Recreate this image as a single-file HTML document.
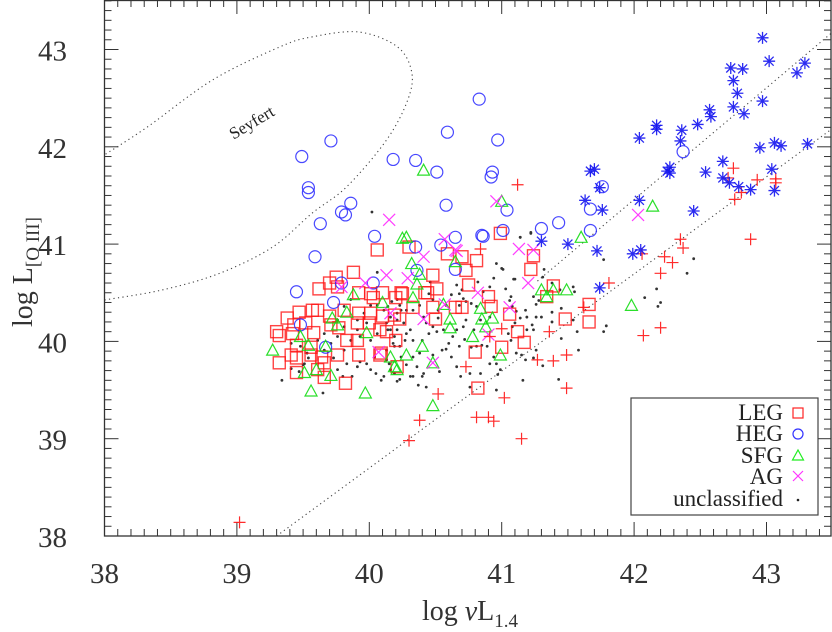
<!DOCTYPE html>
<html><head><meta charset="utf-8"><style>
html,body{margin:0;padding:0;background:#fff;}
svg{display:block;font-family:"Liberation Serif","DejaVu Serif",serif;}
</style></head><body>
<svg id="chart" width="832" height="632" viewBox="0 0 832 632" xmlns="http://www.w3.org/2000/svg">
<defs><clipPath id="pc"><rect x="104.5" y="0" width="726.5" height="536"/></clipPath></defs>
<g id="grid"></g>
<g id="plot" clip-path="url(#pc)"></g>
<rect x="104.5" y="0.5" width="726.5" height="535.5" fill="none" stroke="#333" stroke-width="1.3"/>
<text x="252" y="128" font-size="17" text-anchor="middle" transform="rotate(-31 252 123)" fill="#222">Seyfert</text>
<text x="470" y="620" font-size="28" text-anchor="middle" fill="#333">log <tspan font-style="italic">ν</tspan>L<tspan font-size="19" dy="7">1.4</tspan></text>
<text transform="translate(32 272) rotate(-90)" font-size="28" text-anchor="middle" fill="#333">log L<tspan font-size="19" dy="7">[O III]</tspan></text>
<g>
<rect x="631" y="398" width="187" height="117" fill="#fff" stroke="#444" stroke-width="1.2"/>
<g font-size="23" text-anchor="end" fill="#222">
<text x="783" y="420">LEG</text>
<text x="783" y="441">HEG</text>
<text x="783" y="463">SFG</text>
<text x="783" y="484">AG</text>
<text x="783" y="506">unclassified</text>
</g>
<rect x="793" y="408" width="10" height="10" fill="none" stroke="#f22" stroke-width="1.2"/>
<circle cx="798" cy="434" r="5" fill="none" stroke="#33f" stroke-width="1.2"/>
<path d="M792.5 460 L803.5 460 L798 450 Z" fill="none" stroke="#2e2" stroke-width="1.2"/>
<path d="M793 471 L803 481 M803 471 L793 481" stroke="#f3f" stroke-width="1.2"/>
<circle cx="798" cy="500" r="1.3" fill="#222"/>
</g>
</svg>
<script>
const xTicks=[38,39,40,41,42,43];
const yTicks=[38,39,40,41,42,43];
const legX=[40.06,39.88,39.75,39.70,39.62,39.76,39.92,40.03,40.10,40.24,40.20,39.47,39.57,39.61,39.38,39.52,39.43,39.30,39.32,39.42,39.58,39.70,39.81,39.92,40.01,40.10,40.19,39.71,39.77,39.91,40.00,39.83,39.91,40.20,40.13,39.45,39.56,39.41,39.45,39.32,39.56,39.64,39.66,39.76,39.92,40.09,39.61,39.66,39.82,39.45,40.30,40.59,40.70,40.81,40.73,40.48,40.75,40.51,40.44,40.25,40.99,41.24,41.22,41.39,41.34,40.90,40.92,40.65,40.70,40.48,40.33,40.50,41.06,41.48,41.66,41.66,41.12,41.17,41.00,40.80,40.82,40.23,40.08,40.08,40.21,40.01,40.42];
const legY=[40.94,40.71,40.66,40.60,40.54,40.56,40.50,40.45,40.50,40.50,40.45,40.30,40.32,40.32,40.24,40.19,40.17,40.10,40.06,40.08,40.09,40.26,40.32,40.29,40.29,40.26,40.27,40.17,40.14,40.19,40.19,40.01,40.01,40.01,40.10,39.96,39.94,39.86,39.83,39.78,39.86,39.84,39.78,39.86,39.86,39.88,39.71,39.63,39.57,39.68,40.97,40.90,40.87,40.83,40.73,40.68,40.58,40.54,40.50,40.49,41.11,40.88,40.74,40.57,40.46,40.46,40.36,40.35,40.35,40.35,40.35,40.23,40.28,40.23,40.38,40.20,40.10,39.99,39.94,39.89,39.52,40.23,40.12,39.86,39.74,40.49,40.50];
const hegX=[39.49,39.71,39.54,39.54,39.63,39.79,39.82,39.86,39.59,40.04,40.18,40.35,40.51,40.59,40.58,40.65,40.35,40.54,40.36,40.65,39.45,39.73,39.79,40.03,40.83,40.97,40.93,40.92,41.04,41.01,40.85,41.30,41.43,41.67,41.67,41.76,42.37,39.48,39.67,40.86];
const hegY=[41.90,42.06,41.58,41.53,41.21,41.33,41.30,41.42,40.87,41.08,41.87,41.86,41.74,42.15,41.40,41.07,40.97,40.99,40.73,40.74,40.51,40.40,40.60,40.60,42.49,42.07,41.74,41.69,41.35,41.14,41.09,41.16,41.22,41.36,41.14,41.59,41.95,40.17,39.94,41.08];
const qsoX=[42.97,43.02,42.73,42.82,42.75,42.78,42.75,42.97,42.83,42.57,42.58,42.48,42.36,42.35,42.17,42.17,42.04,43.23,43.29,43.31,43.06,43.11,42.95,42.67,42.54,42.27,42.25,42.27,42.67,42.72,42.79,42.88,43.04,43.06,42.45,42.04,41.76,41.74,41.63,41.67,41.70,41.30,41.50,41.72,41.99,42.05,41.74];
const qsoY=[43.12,42.88,42.81,42.80,42.68,42.55,42.41,42.47,42.34,42.38,42.31,42.23,42.17,42.06,42.22,42.18,42.09,42.76,42.86,42.03,42.04,42.01,41.99,41.85,41.74,41.79,41.75,41.73,41.68,41.63,41.59,41.56,41.77,41.55,41.34,41.45,41.35,41.58,41.45,41.75,41.77,41.03,41.00,40.93,40.90,40.94,40.55];
const sfgX=[40.41,40.28,40.32,40.38,40.36,40.33,39.88,40.10,40.56,40.65,41.00,42.14,41.60,41.30,41.34,41.39,41.49,40.84,41.98,40.61,40.61,40.85,40.88,40.93,40.78,40.40,40.99,40.28,40.16,40.48,40.19,40.21,40.48,40.25,39.83,39.72,39.76,39.98,39.48,39.27,39.54,39.67,39.51,39.60,39.71,39.56,39.97];
const sfgY=[41.76,41.07,40.80,40.69,40.59,40.45,40.48,40.40,40.38,40.82,41.44,41.39,41.07,40.53,40.46,40.53,40.53,40.34,40.37,40.23,40.14,40.23,40.15,40.24,40.05,39.95,39.86,39.86,39.84,39.78,39.74,39.71,39.34,41.06,40.30,40.24,40.17,40.09,40.05,39.91,39.96,39.95,39.68,39.71,39.65,39.49,39.47];
const agX=[40.15,40.57,40.41,40.29,40.13,40.65,40.96,42.03,40.66,41.13,41.24,41.20,40.82,41.06,40.41,40.57,40.90,40.48,39.79,39.97,40.07,40.16];
const agY=[41.25,41.05,40.87,40.65,40.68,40.94,41.44,41.30,40.93,40.95,40.94,40.60,40.50,40.35,40.23,40.38,40.07,39.78,40.56,40.60,39.89,40.29];
const plusX=[41.12,40.84,42.06,42.35,42.37,42.23,42.29,42.20,41.81,41.62,42.75,42.71,42.76,42.81,42.93,43.07,43.07,42.88,42.20,42.07,41.36,41.00,40.91,41.27,41.39,41.49,41.49,40.73,40.52,41.02,40.38,40.81,40.90,40.94,40.30,41.15,39.02];
const plusY=[41.61,40.95,40.90,41.05,40.96,40.87,40.81,40.70,40.60,40.35,41.78,41.68,41.46,41.53,41.66,41.67,41.63,41.05,40.14,40.06,40.10,40.13,40.05,39.81,39.80,39.86,39.52,39.74,39.46,39.42,39.19,39.22,39.22,39.18,38.98,39.00,38.14];
const dotX=[41.14,41.22,40.96,41.01,41.10,41.31,41.38,41.54,41.55,41.44,41.24,41.26,41.28,41.18,41.19,41.07,41.06,41.03,41.08,41.11,41.14,41.26,41.30,41.38,41.45,41.38,41.54,41.58,41.45,41.23,41.24,41.19,41.08,41.10,41.05,41.07,41.11,41.15,41.18,41.24,41.31,41.26,40.91,40.84,40.79,40.73,40.71,40.66,40.63,40.60,40.55,40.56,40.51,40.48,40.52,40.52,40.58,40.68,40.71,40.77,40.81,40.82,40.91,40.86,40.94,40.66,40.70,40.73,40.62,40.68,40.46,40.45,40.48,40.38,40.33,40.41,40.43,40.45,40.40,40.38,40.33,40.28,40.36,40.48,40.58,40.62,40.68,40.72,40.77,40.81,40.85,40.89,40.91,40.94,40.96,40.99,40.97,40.84,40.76,40.69,40.66,40.53,40.41,40.31,40.23,40.19,40.16,40.11,40.13,40.13,40.18,40.27,40.23,40.28,40.33,40.31,40.26,40.21,40.16,40.13,40.21,40.28,40.23,40.17,41.77,41.79,42.08,42.17,42.18,41.77,41.57,41.43,41.16,40.96,40.76,40.43,40.37,40.33,40.40,40.06,39.34,39.41,39.47,39.50,39.54,39.65,39.73,39.76,39.80,39.83,39.87,39.91,39.93,39.98,40.01,40.04,40.05,40.09,40.15,40.21,40.19,40.24,40.14,40.21,39.81,39.86,39.76,39.71,39.66,39.61,39.53,39.48,39.41,39.51,39.93,40.01,40.06,40.11,40.16,39.96,39.91,40.21,40.24,39.86,39.81,40.01,40.06,40.14,39.91,39.98,40.19,39.81,39.66,39.76,41.22,41.14,41.00,41.32,41.09,42.40,42.45,42.20,40.02];
const dotY=[41.07,41.11,40.80,40.74,40.64,40.66,40.60,40.56,40.51,40.53,40.46,40.38,40.42,40.32,40.25,40.46,40.42,40.54,40.36,40.31,40.24,40.25,40.25,40.20,40.34,40.30,40.22,39.91,40.03,40.17,40.12,40.12,40.15,40.19,40.08,40.01,39.88,39.86,39.81,39.83,39.75,39.91,40.25,40.22,40.12,40.22,40.15,40.12,40.05,39.98,39.91,40.12,40.10,40.15,40.24,40.32,40.37,40.37,40.44,40.39,40.36,40.61,40.56,40.51,40.65,40.58,40.53,40.41,40.48,40.49,40.61,40.49,40.43,40.37,40.32,40.25,40.19,40.08,40.01,39.88,39.84,39.76,39.74,39.86,39.92,39.84,39.95,40.02,39.94,39.95,39.96,39.95,39.77,39.84,39.77,39.71,39.66,39.67,39.67,39.64,39.74,39.69,39.67,39.64,39.61,39.67,39.71,39.64,39.81,39.91,39.98,40.01,39.95,40.08,40.01,40.12,40.19,40.12,40.12,40.19,40.29,40.32,40.37,40.41,40.84,40.16,40.45,40.54,40.36,40.10,40.10,39.61,39.60,39.50,39.53,39.53,39.55,39.64,39.64,40.71,39.60,39.72,39.69,39.76,39.83,39.47,39.83,39.71,39.64,39.77,39.64,39.74,39.79,39.77,39.71,39.84,39.67,39.60,39.77,39.59,39.95,39.84,40.12,40.22,40.15,40.01,40.05,39.98,40.08,40.01,39.88,39.95,39.98,39.77,40.05,40.01,40.08,40.32,40.25,40.29,40.22,40.43,40.32,40.43,40.36,40.37,40.37,40.36,40.12,40.19,40.05,39.91,39.91,40.22,41.12,41.07,40.75,40.74,40.64,40.70,40.85,40.40,41.33];
const lowerLine=[[39.30,38.0],[43.5,42.19]];
const upperLine=[[41.27,40.62],[43.5,43.18]];
const seyfertX=[37.98,38.32,38.82,39.33,39.57,39.92,40.21,40.32,40.29,40.13,39.83,39.57,39.27,38.87,38.44,38.02,37.98];
const seyfertY=[41.90,42.20,42.69,43.03,43.13,43.18,43.03,42.77,42.48,42.07,41.59,41.32,40.97,40.70,40.53,40.43,40.42];

const NS="http://www.w3.org/2000/svg";
const X0=104.5,PX=132.4,Y0=536,PY=97.3;
function sx(v){return X0+(v-38)*PX;}
function sy(v){return Y0-(v-38)*PY;}
function mk(tag,attrs,parent){const e=document.createElementNS(NS,tag);for(const k in attrs)e.setAttribute(k,attrs[k]);parent.appendChild(e);return e;}
const grid=document.getElementById('grid');
const plot=document.getElementById('plot');

for(let i=0;i<=55;i++){
  const v=38+i*0.1; const x=sx(v); const major=(i%10===0);
  const L=major?14:7;
  const t1=mk('line',{x1:x,y1:536,x2:x,y2:536-L,stroke:'#333','stroke-width':1},grid);
  
  
  const t2=mk('line',{x1:x,y1:0,x2:x,y2:L,stroke:'#333','stroke-width':1},grid);
  
  
}
for(let i=0;i<=55;i++){
  const v=38+i*0.1; const y=sy(v); const major=(i%10===0);
  const L=major?14:7;
  const t1=mk('line',{x1:104.5,y1:y,x2:104.5+L,y2:y,stroke:'#333','stroke-width':1},grid);
  
  
  const t2=mk('line',{x1:831,y1:y,x2:831-L,y2:y,stroke:'#333','stroke-width':1},grid);
  
  
}
xTicks.forEach(v=>{
  const t=mk('text',{x:sx(v),y:583,'font-size':29,'text-anchor':'middle',fill:'#333'},grid);
  t.textContent=String(v);
  
  
});
yTicks.forEach(v=>{
  const t=mk('text',{x:67,y:sy(v)+11,'font-size':29,'text-anchor':'end',fill:'#333'},grid);
  t.textContent=String(v);
  
  
});

[lowerLine,upperLine].forEach((ln,i)=>{
  const l=mk('line',{x1:sx(ln[0][0]),y1:sy(ln[0][1]),x2:sx(ln[1][0]),y2:sy(ln[1][1]),stroke:'#444','stroke-width':1.1,'stroke-dasharray':'1.2 3.3'},plot);
  
  
});
(function(){
  const p=seyfertX.map((v,i)=>[sx(v),sy(seyfertY[i])]);
  let d='M'+p[0][0]+' '+p[0][1];
  for(let i=0;i<p.length-1;i++){
    const p0=p[Math.max(0,i-1)],p1=p[i],p2=p[i+1],p3=p[Math.min(p.length-1,i+2)];
    d+=' C'+(p1[0]+(p2[0]-p0[0])/6)+' '+(p1[1]+(p2[1]-p0[1])/6)+' '+(p2[0]-(p3[0]-p1[0])/6)+' '+(p2[1]-(p3[1]-p1[1])/6)+' '+p2[0]+' '+p2[1];
  }
  const e=mk('path',{d:d,fill:'none',stroke:'#444','stroke-width':1.1,'stroke-dasharray':'1.2 3.3'},plot);
  
  
})();

dotX.forEach((v,i)=>{
  const c=mk('circle',{cx:sx(v),cy:sy(dotY[i]),r:1.4,fill:'#333'},plot);
  
  
});
legX.forEach((v,i)=>{
  const x=sx(v),y=sy(legY[i]);
  const r=mk('rect',{x:x-6,y:y-6,width:12,height:12,fill:'none',stroke:'rgba(255,20,20,0.8)','stroke-width':1.4},plot);
  
  
});
hegX.forEach((v,i)=>{
  const c=mk('circle',{cx:sx(v),cy:sy(hegY[i]),r:6,fill:'none',stroke:'rgba(40,40,255,0.85)','stroke-width':1.2},plot);
  
  
});
sfgX.forEach((v,i)=>{
  const x=sx(v),y=sy(sfgY[i]);
  const t=mk('path',{d:`M${x-6} ${y+5} L${x+6} ${y+5} L${x} ${y-6} Z`,fill:'none',stroke:'rgba(20,220,20,0.9)','stroke-width':1.2},plot);
  
  
});
agX.forEach((v,i)=>{
  const x=sx(v),y=sy(agY[i]);
  const t=mk('path',{d:`M${x-6} ${y-6} L${x+6} ${y+6} M${x+6} ${y-6} L${x-6} ${y+6}`,stroke:'rgba(255,40,255,0.9)','stroke-width':1.2},plot);
  
  
});
plusX.forEach((v,i)=>{
  const x=sx(v),y=sy(plusY[i]);
  const t=mk('path',{d:`M${x-6} ${y} L${x+6} ${y} M${x} ${y-6} L${x} ${y+6}`,stroke:'rgba(255,20,20,0.9)','stroke-width':1.2},plot);
  
  
});
qsoX.forEach((v,i)=>{
  const x=sx(v),y=sy(qsoY[i]);
  const t=mk('path',{d:`M${x-6} ${y} L${x+6} ${y} M${x} ${y-6} L${x} ${y+6} M${x-4.5} ${y-4.5} L${x+4.5} ${y+4.5} M${x+4.5} ${y-4.5} L${x-4.5} ${y+4.5}`,stroke:'rgba(20,20,240,0.9)','stroke-width':1.3},plot);
  
  
});
</script>
</body></html>
